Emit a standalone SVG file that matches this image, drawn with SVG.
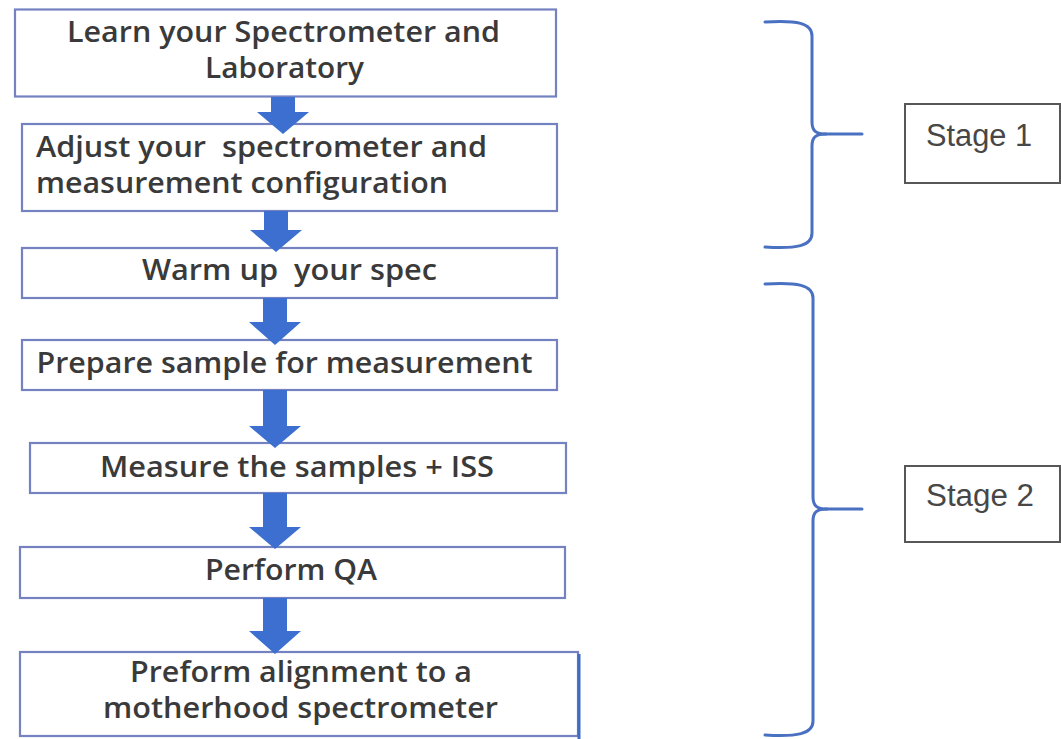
<svg xmlns="http://www.w3.org/2000/svg" width="1061" height="739" viewBox="0 0 1061 739">
  <defs>
    <style>
      .step rect { fill: #ffffff; stroke: #7482c2; stroke-width: 2.2; }
      .step text { font-family: "Open Sans", "Liberation Sans", sans-serif; font-size: 28px; font-weight: 600; fill: #3a3a3a; white-space: pre; }
      .arrow { fill: #3c6fcf; }
      .brace { fill: none; stroke: #4a70c2; stroke-width: 3; stroke-linejoin: round; stroke-linecap: round; }
      .stage rect { fill: #ffffff; stroke: #575757; stroke-width: 2; }
      .stage text { font-family: "Liberation Sans", Arial, sans-serif; font-size: 31px; fill: #474747; }
    </style>
  </defs>
  <rect width="1061" height="739" fill="#ffffff"/>

  <!-- process steps -->
  <g id="step-learn" class="step">
    <rect x="15" y="9.5" width="541" height="87"/>
    <text x="67" y="42" textLength="433" lengthAdjust="spacingAndGlyphs">Learn your Spectrometer and</text>
    <text x="205" y="78" textLength="159" lengthAdjust="spacingAndGlyphs">Laboratory</text>
  </g>
  <g id="step-adjust" class="step">
    <rect x="22" y="124" width="535" height="87"/>
    <text x="36" y="157" textLength="451" lengthAdjust="spacingAndGlyphs">Adjust your  spectrometer and</text>
    <text x="36" y="193" textLength="412" lengthAdjust="spacingAndGlyphs">measurement configuration</text>
  </g>
  <g id="step-warm" class="step">
    <rect x="22" y="248" width="535" height="50"/>
    <text x="142" y="280" textLength="295" lengthAdjust="spacingAndGlyphs">Warm up  your spec</text>
  </g>
  <g id="step-prepare" class="step">
    <rect x="22" y="340" width="535" height="50"/>
    <text x="36.5" y="373" textLength="496" lengthAdjust="spacingAndGlyphs">Prepare sample for measurement</text>
  </g>
  <g id="step-measure" class="step">
    <rect x="30" y="443" width="536" height="50"/>
    <text x="100" y="477" textLength="394" lengthAdjust="spacingAndGlyphs">Measure the samples + ISS</text>
  </g>
  <g id="step-qa" class="step">
    <rect x="20" y="547" width="545" height="51"/>
    <text x="205" y="580" textLength="172" lengthAdjust="spacingAndGlyphs">Perform QA</text>
  </g>
  <g id="step-align" class="step">
    <rect x="20" y="652" width="558" height="84"/>
    <line x1="579" y1="654" x2="579" y2="739" stroke="#3d6cc0" stroke-width="3"/>
    <text x="130" y="682" textLength="342" lengthAdjust="spacingAndGlyphs">Preform alignment to a</text>
    <text x="103" y="718" textLength="395" lengthAdjust="spacingAndGlyphs">motherhood spectrometer</text>
  </g>

  <!-- block arrows between steps -->
  <g id="connectors">
    <path class="arrow" d="M271,97 H295 V112 H309 L283,134 L257,112 H271 Z"/>
    <path class="arrow" d="M264,211 H288 V230 H302 L276,252 L250,230 H264 Z"/>
    <path class="arrow" d="M263,298 H287 V322 H301 L275,345 L249,322 H263 Z"/>
    <path class="arrow" d="M263,390 H287 V426 H301 L275,448 L249,426 H263 Z"/>
    <path class="arrow" d="M263,493 H287 V527 H301 L275,549 L249,527 H263 Z"/>
    <path class="arrow" d="M263,598 H287 V631 H301 L275,654 L249,631 H263 Z"/>
  </g>

  <!-- stage braces -->
  <g id="brace-1">
    <path class="brace" d="M765,22 C797,20 812,23 812,36 V122 C812,131 816,134 826,134 H862"/>
    <path class="brace" d="M765,247 C797,249 812,246 812,233 V146 C812,137 816,134 826,134"/>
  </g>
  <g id="brace-2">
    <path class="brace" d="M765,284 C797,282 813,285 813,298 V497 C813,506 817,509 827,509 H862"/>
    <path class="brace" d="M765,735 C797,737 813,734 813,721 V521 C813,512 817,509 827,509"/>
  </g>

  <!-- stage labels -->
  <g id="stage-1" class="stage">
    <rect x="905" y="104" width="155" height="79"/>
    <text x="926" y="146" textLength="106" lengthAdjust="spacingAndGlyphs">Stage 1</text>
  </g>
  <g id="stage-2" class="stage">
    <rect x="905" y="466" width="155" height="76"/>
    <text x="926" y="506" textLength="108" lengthAdjust="spacingAndGlyphs">Stage 2</text>
  </g>
</svg>
